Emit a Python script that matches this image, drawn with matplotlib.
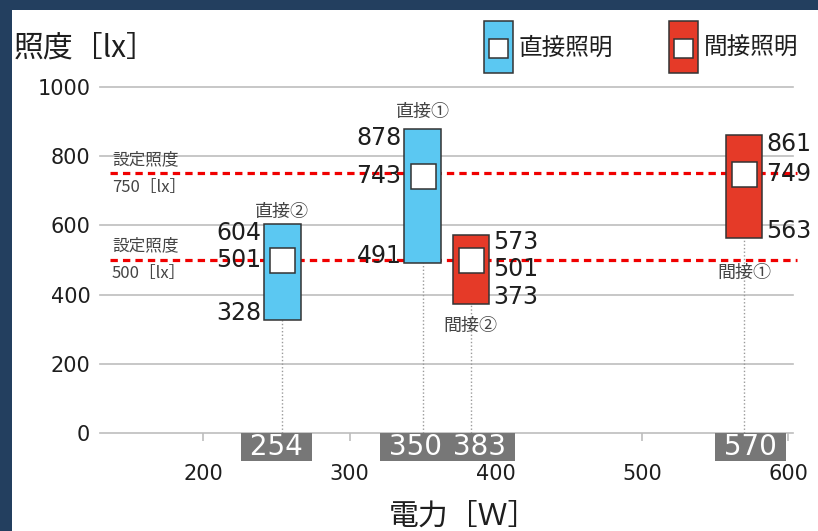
import matplotlib
matplotlib.use("Agg")
import matplotlib.pyplot as plt
from matplotlib.patches import Rectangle

# ---- data -------------------------------------------------------------
names = ["直接②", "直接①", "間接②", "間接①"]
kinds = ["直接", "直接", "間接", "間接"]
power_w = [254, 350, 383, 570]
lux_max = [604, 878, 573, 861]
lux_avg = [501, 743, 501, 749]
lux_min = [328, 491, 373, 563]
setpoints = [750, 500]
x_ticks = [200, 300, 400, 500, 600]
y_ticks = [0, 200, 400, 600, 800, 1000]
legend_labels = ["直接照明", "間接照明"]

# ---- style ------------------------------------------------------------
JP = ["Noto Sans CJK JP", "DejaVu Sans"]
NUM = ["DejaVu Sans"]
NAVY = "#233F5F"
BLUE = "#5BC8F2"
RED = "#E53A28"
EDGE = "#333333"
GRID = "#BDBDBD"
TXT = "#1E1E1E"
kind_color = {"直接": BLUE, "間接": RED}
# category label vertical offsets (pt) relative to bar end
name_offset = {"直接②": 8.5, "直接①": 12.5, "間接②": -16, "間接①": -25}
# vertical offsets (pt) of the max / avg / min value labels
value_dy = {"直接②": (-6.5, 0, 5), "直接①": (-6.5, 0, 5),
            "間接②": (-5, -7, 5), "間接①": (-6.5, 0, 5)}
# x-axis value badge horizontal offsets (pt)
badge_offset = {254: -4, 350: -5, 383: 6.5, 570: 4.5}

W, H = 818, 531
fig = plt.figure(figsize=(W / 100, H / 100), dpi=100)
fig.patch.set_facecolor(NAVY)
fig.add_artist(Rectangle((12 / W, 0), 1 - 12 / W, 1 - 10 / H,
                         transform=fig.transFigure, facecolor="white",
                         edgecolor="none", zorder=0))

ax = fig.add_axes([100 / W, 98 / H, 693 / W, 346 / H])
ax.set_facecolor("none")
ax.set_xlim(129.3, 603.4)
ax.set_ylim(0, 1000)
for s in ax.spines.values():
    s.set_visible(False)

ax.set_yticks(y_ticks)
ax.set_yticklabels([str(v) for v in y_ticks], fontsize=15, color=TXT,
                   family=NUM)
ax.tick_params(axis="y", length=0, pad=7)
ax.yaxis.grid(True, color=GRID, lw=1.2)
for gl in ax.get_ygridlines():
    gl.set_clip_on(False)
ax.set_axisbelow(True)

ax.set_xticks(x_ticks)
ax.set_xticklabels([str(v) for v in x_ticks], fontsize=15, color=TXT,
                   family=NUM)
ax.tick_params(axis="x", length=6, width=1.2, color=GRID, pad=16,
               direction="out")

# target illuminance lines
for sp in setpoints:
    ax.axhline(sp, xmin=0.0144, xmax=1.006, color="#F00000", lw=2.3,
               ls=(0, (2.3, 1.6)), zorder=2, clip_on=False)
    ax.annotate("設定照度", xy=(0.0173, sp), xycoords=("axes fraction", "data"),
                xytext=(0, 10), textcoords="offset points", ha="left",
                va="center", fontsize=12, color="#444444", family=JP)
    ax.annotate(f"{sp}［lx］", xy=(0.0173, sp),
                xycoords=("axes fraction", "data"),
                xytext=(0, -10), textcoords="offset points", ha="left",
                va="center", fontsize=12, color="#444444", family=JP)

bar_w = 25
colors = [kind_color[k] for k in kinds]
heights = [hi - lo for hi, lo in zip(lux_max, lux_min)]

# dotted drop lines
ax.vlines(power_w, 0, lux_min, colors="#9A9A9A", lw=1.0,
          linestyles=(0, (1, 1.6)), zorder=1)

ax.bar(power_w, heights, bottom=lux_min, width=bar_w, color=colors,
       edgecolor=EDGE, lw=1.1, zorder=3)
ax.plot(power_w, lux_avg, "s", ms=18, mfc="white", mec=EDGE, mew=1.1,
        zorder=4, ls="none")

for name, kind, x, hi, av, lo in zip(names, kinds, power_w, lux_max,
                                     lux_avg, lux_min):
    if kind == "直接":
        ex, dx, ha = x - bar_w / 2, -2, "right"
    else:
        ex, dx, ha = x + bar_w / 2, 3, "left"
    for val, dy in zip((hi, av, lo), value_dy[name]):
        ax.annotate(str(val), xy=(ex, val), xytext=(dx, dy),
                    textcoords="offset points", ha=ha, va="center",
                    fontsize=17, color=TXT, family=NUM, zorder=5)
    off = name_offset[name]
    ax.annotate(name, xy=(x, hi if off > 0 else lo), xytext=(0, off),
                textcoords="offset points", ha="center", va="center",
                fontsize=13, color="#444444", family=JP, zorder=5)

# value badges on the x axis
for x in power_w:
    ax.annotate(f" {x} ", xy=(x, 0), xytext=(badge_offset[x], 0),
                textcoords="offset points", ha="center", va="top",
                fontsize=20, color="white", family=NUM, zorder=6,
                annotation_clip=False,
                bbox=dict(boxstyle="square,pad=0", fc="#777777",
                          ec="none"))

# axis titles
fig.text(14 / W, 1 - 48 / H, "照度［lx］", fontsize=21.5, color=TXT,
         family=JP, ha="left", va="center")
fig.text(389 / W, 1 - 516 / H, "電力［Ｗ］", fontsize=21.5, color=TXT,
         family=JP, ha="left", va="center")

# legend
for (lx, label, col) in ((484, legend_labels[0], BLUE),
                         (669, legend_labels[1], RED)):
    fig.add_artist(Rectangle((lx / W, 1 - 73 / H), 29 / W, 52 / H,
                             transform=fig.transFigure, fc=col, ec=EDGE,
                             lw=1.1, zorder=3))
    fig.add_artist(Rectangle(((lx + 5) / W, 1 - 58 / H), 19 / W, 19 / H,
                             transform=fig.transFigure, fc="white", ec=EDGE,
                             lw=1.1, zorder=4))
    fig.text((lx + 35) / W, 1 - 48 / H, label, fontsize=17, color=TXT,
             family=JP, ha="left", va="center")

fig.savefig("out.png", dpi=100, facecolor=fig.get_facecolor())
